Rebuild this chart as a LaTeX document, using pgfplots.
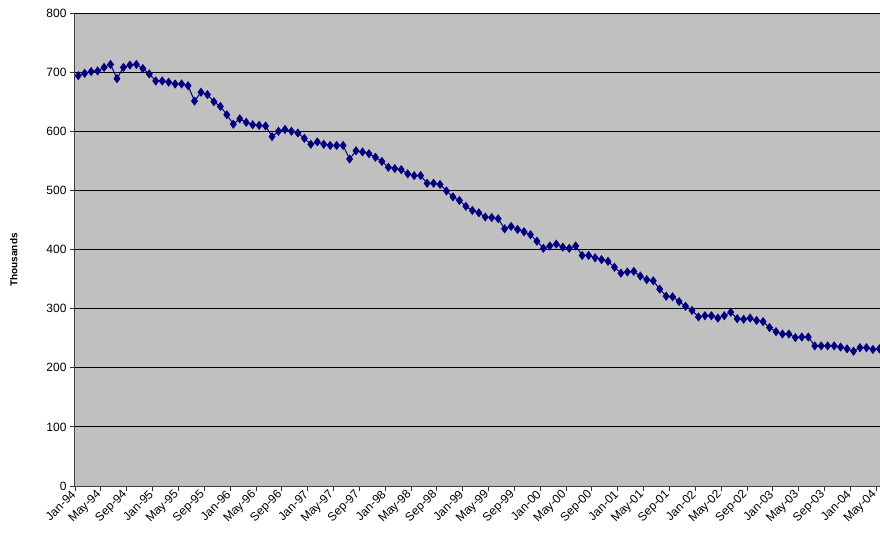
\documentclass[border=0pt]{standalone}
\usepackage{fontspec}
\setmainfont{Liberation Sans}
\usepackage{pgfplots}
\pgfplotsset{compat=1.18}
\usetikzlibrary{calc}
\definecolor{navyline}{RGB}{0,0,128}
\definecolor{plotbg}{RGB}{192,192,192}
\begin{document}
\begin{tikzpicture}
\begin{axis}[
  scale only axis,
  width=805pt, height=473pt,
  xmin=-0.5, xmax=124.1,
  ymin=0, ymax=800,
  ytick={0,100,...,800},
  xtick={-0.5,3.5,...,123.5},
  xticklabels={Jan-94,May-94,Sep-94,Jan-95,May-95,Sep-95,Jan-96,May-96,Sep-96,Jan-97,May-97,Sep-97,Jan-98,May-98,Sep-98,Jan-99,May-99,Sep-99,Jan-00,May-00,Sep-00,Jan-01,May-01,Sep-01,Jan-02,May-02,Sep-02,Jan-03,May-03,Sep-03,Jan-04,May-04},
  axis x line*=bottom, axis y line*=left,
  tick align=outside,
  major tick length=5pt,
  tick style={black!80, line width=0.8pt},
  axis line style={black!75, line width=1pt},
  ymajorgrids,
  grid style={black, line width=0.9pt},
  axis background/.style={fill=plotbg},
  /pgf/number format/assume math mode=true,
  yticklabel style={font=\fontsize{12}{14}\selectfont},
  xticklabel style={font=\fontsize{12}{14}\selectfont, rotate=45, anchor=east, inner sep=2pt},
  ylabel={Thousands},
  every axis y label/.style={at={(axis description cs:-0.076,0.478)}, rotate=90, anchor=center, font=\bfseries\fontsize{10}{12}\selectfont},
  clip=false,
]
\addplot[color=navyline, line width=1pt, mark=diamond*, mark size=3.8pt, mark options={fill=navyline, draw=navyline}] table {
x y
0 694
1 698
2 701
3 702
4 708
5 713
6 689
7 708
8 712
9 713
10 706
11 697
12 685
13 685
14 683
15 680
16 680
17 677
18 651
19 666
20 662
21 650
22 642
23 628
24 612
25 621
26 615
27 611
28 610
29 609
30 591
31 600
32 603
33 600
34 597
35 588
36 578
37 582
38 578
39 576
40 576
41 576
42 553
43 567
44 565
45 562
46 556
47 549
48 539
49 537
50 535
51 528
52 525
53 525
54 512
55 512
56 510
57 499
58 489
59 483
60 473
61 466
62 462
63 455
64 454
65 452
66 435
67 439
68 434
69 430
70 425
71 414
72 402
73 406
74 409
75 404
76 402
77 406
78 390
79 390
80 386
81 383
82 380
83 370
84 360
85 362
86 363
87 355
88 349
89 347
90 333
91 321
92 320
93 312
94 304
95 297
96 286
97 288
98 288
99 284
100 288
101 294
102 283
103 282
104 284
105 280
106 278
107 268
108 261
109 257
110 257
111 251
112 252
113 252
114 237
115 237
116 237
117 237
118 235
119 232
120 228
121 234
122 234
123 231
124 232
};
\end{axis}
\pgfresetboundingbox
\path ($(current axis.south west)+(-75pt,-55pt)$) rectangle ($(current axis.north east)+(0pt,13pt)$);
\end{tikzpicture}
\end{document}
